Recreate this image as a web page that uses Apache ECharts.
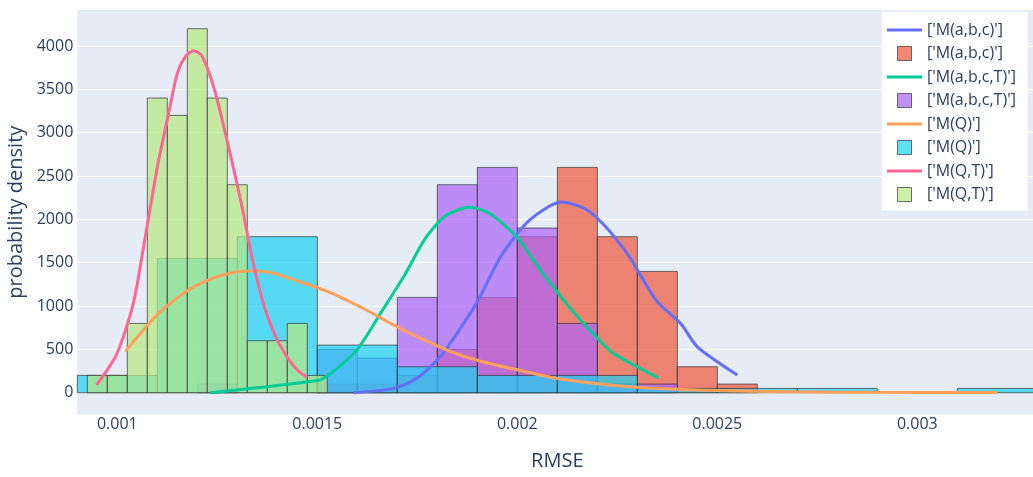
<!DOCTYPE html>
<html>
<head>
<meta charset="utf-8">
<script src="https://cdn.jsdelivr.net/npm/echarts@6/dist/echarts.min.js"></script>
<style>
html,body{margin:0;padding:0;background:#fff;}
#chart{width:1033px;height:477px;}
</style>
</head>
<body>
<div id="chart"></div>
<script>
// ---------- data ----------
const seriesLabels = ["['M(a,b,c)']", "['M(a,b,c,T)']", "['M(Q)']", "['M(Q,T)']"];
const lineColors = ['#636EFA', '#00CC96', '#FFA15A', '#FF6692'];
const histColors = ['#EF553B', '#AB63FA', '#19D3F3', '#B6E880'];

// histogram bins: start, width, densities
const histStartAbc = 0.0015, histWidthAbc = 0.0001;
const histAbc = [100, 100, 200, 500, 1100, 1800, 2600, 1800, 1400, 300, 100];
const histStartAbcT = 0.0012, histWidthAbcT = 0.0001;
const histAbcT = [100, 0, 0, 500, 400, 1100, 2400, 2600, 1900, 800, 100, 100];
const histStartQ = 0.0009, histWidthQ = 0.0002;
const histQ = [200, 1550, 1800, 550, 300, 200, 200, 50, 50, 50, 0, 50];
const histStartQT = 0.000925, histWidthQT = 0.00005;
const histQT = [200, 200, 800, 3400, 3200, 4200, 3400, 2400, 600, 600, 800, 200];

// density curves
const curveAbcX = [0.00159, 0.00169, 0.00175, 0.00181, 0.00185, 0.0019, 0.00196, 0.00203, 0.00211, 0.00217, 0.00222, 0.00228, 0.00231, 0.00235, 0.00241, 0.00245, 0.00255];
const curveAbcY = [0, 50, 170, 430, 690, 1050, 1580, 1990, 2200, 2120, 1920, 1570, 1340, 1050, 790, 530, 205];
const curveAbcTX = [0.001232, 0.0015, 0.00153, 0.0016, 0.00166, 0.00172, 0.00177, 0.00182, 0.00188, 0.00193, 0.002, 0.00206, 0.00213, 0.0022, 0.00224, 0.002353];
const curveAbcTY = [0, 140, 210, 500, 930, 1370, 1780, 2040, 2140, 2070, 1790, 1400, 990, 630, 455, 170];
const curveQX = [0.00102, 0.0011, 0.00118, 0.00125, 0.00132, 0.00138, 0.00145, 0.00153, 0.00162, 0.0017, 0.00175, 0.00183, 0.00191, 0.002, 0.0021, 0.00228, 0.0025, 0.0027, 0.0029, 0.0031, 0.0032];
const curveQY = [475, 900, 1190, 1340, 1405, 1390, 1290, 1160, 960, 760, 645, 480, 360, 265, 165, 70, 25, 10, 5, 3, 2];
const curveQTX = [0.000948, 0.000998, 0.00104, 0.00107, 0.0011, 0.00113, 0.00115, 0.00117, 0.00119, 0.00121, 0.00123, 0.00125, 0.00128, 0.00131, 0.00134, 0.00137, 0.0014, 0.00143, 0.00145, 0.001474];
const curveQTY = [90, 440, 1030, 1800, 2600, 3260, 3685, 3877, 3946, 3896, 3685, 3377, 2800, 2185, 1493, 954, 608, 377, 262, 180];

// axis ticks
const xTickLabels = [0.001, 0.0015, 0.002, 0.0025, 0.003];
const yTickLabels = [0, 500, 1000, 1500, 2000, 2500, 3000, 3500, 4000];

// ---------- build ----------
const FONT = '"Open Sans", sans-serif';
const TXT = '#2a3f5f';
const Y_MIN = -250, Y_MAX = 4416, Y_STEP = 250;

function bins(start, width, heights) {
  return heights.map((h, i) => [start + i * width, start + (i + 1) * width, h]);
}
function pairs(xs, ys) { return xs.map((x, i) => [x, ys[i]]); }

const hists = [
  bins(histStartAbc, histWidthAbc, histAbc),
  bins(histStartAbcT, histWidthAbcT, histAbcT),
  bins(histStartQ, histWidthQ, histQ),
  bins(histStartQT, histWidthQT, histQT)
];
const curves = [
  pairs(curveAbcX, curveAbcY),
  pairs(curveAbcTX, curveAbcTY),
  pairs(curveQX, curveQY),
  pairs(curveQTX, curveQTY)
];

function hexA(hex, a) {
  const n = parseInt(hex.slice(1), 16);
  return 'rgba(' + (n >> 16) + ',' + ((n >> 8) & 255) + ',' + (n & 255) + ',' + a + ')';
}

const series = [];
hists.forEach((data, k) => {
  const col = histColors[k];
  series.push({
    name: 'hist' + k,
    type: 'custom',
    z: 1,
    itemStyle: { color: col },
    data: data,
    encode: { x: [0, 1], y: 2 },
    renderItem: function (params, api) {
      const h = api.value(2);
      if (!h) return null;
      const p0 = api.coord([api.value(0), h]);
      const p1 = api.coord([api.value(1), 0]);
      return {
        type: 'rect',
        shape: { x: p0[0], y: p0[1], width: p1[0] - p0[0], height: p1[1] - p0[1] },
        style: { fill: col, stroke: '#333', lineWidth: 1, opacity: 0.7 }
      };
    }
  });
});
curves.forEach((data, k) => {
  series.push({
    name: 'line' + k,
    type: 'line',
    z: 5,
    symbol: 'none',
    smooth: 0.25,
    color: lineColors[k],
    lineStyle: { width: 3, color: lineColors[k] },
    data: data
  });
});

const legendData = [];
for (let k = 0; k < 4; k++) {
  legendData.push({
    name: 'line' + k,
    icon: 'path://M0,0H35V3H0Z',
    itemStyle: { color: lineColors[k], borderWidth: 0 }
  });
  legendData.push({
    name: 'hist' + k,
    icon: 'path://M0,0H10V10H0Z',
    itemStyle: { color: hexA(histColors[k], 0.7), borderColor: 'rgba(51,51,51,0.7)', borderWidth: 1 }
  });
}
const legendText = {};
for (let k = 0; k < 4; k++) {
  legendText['line' + k] = seriesLabels[k];
  legendText['hist' + k] = seriesLabels[k];
}

// y split-line colours: only the labelled values get a white grid line
const yTicks = [];
for (let v = Y_MIN; v < Y_MAX; v += Y_STEP) yTicks.push(v);
yTicks.push(Y_MAX);
const ySplitColors = yTicks.map(v => yTickLabels.indexOf(v) >= 0 ? '#ffffff' : 'rgba(0,0,0,0)');

const chart = echarts.init(document.getElementById('chart'), null, { renderer: 'canvas' });
chart.setOption({
  animation: false,
  backgroundColor: '#ffffff',
  textStyle: { fontFamily: FONT },
  grid: {
    left: 77.3, top: 10, width: 960, height: 404.4,
    show: true, backgroundColor: '#E5ECF6', borderWidth: 0,
    containLabel: false,
    outerBoundsMode: 'none'
  },
  legend: {
    orient: 'vertical',
    left: 882, top: 12,
    padding: [10, 12, 8, 5],
    itemGap: 7.5,
    itemWidth: 35, itemHeight: 14,
    backgroundColor: '#ffffff',
    data: legendData,
    formatter: name => legendText[name],
    textStyle: { color: TXT, fontSize: 16, fontFamily: FONT }
  },
  xAxis: {
    type: 'value',
    min: 0.0009, max: 0.0033, interval: 0.0001,
    name: 'RMSE', nameLocation: 'middle', nameGap: 37,
    nameTextStyle: { color: TXT, fontSize: 20, fontFamily: FONT },
    axisLine: { show: false }, axisTick: { show: false },
    splitLine: { show: false },
    axisLabel: {
      margin: 2, color: TXT, fontSize: 16, fontFamily: FONT,
      formatter: function (v) {
        for (const t of xTickLabels) if (Math.abs(t - v) < 1e-9) return String(t);
        return '';
      }
    }
  },
  yAxis: {
    type: 'value',
    min: Y_MIN, max: Y_MAX, interval: Y_STEP,
    name: 'probability density', nameLocation: 'middle', nameGap: 48,
    nameTextStyle: { color: TXT, fontSize: 20, fontFamily: FONT },
    axisLine: { show: false }, axisTick: { show: false },
    splitLine: { show: true, lineStyle: { color: ySplitColors, width: 1 } },
    axisLabel: {
      margin: 4, color: TXT, fontSize: 16, fontFamily: FONT,
      formatter: function (v) {
        for (const t of yTickLabels) if (Math.abs(t - v) < 1e-6) return String(t);
        return '';
      }
    }
  },
  series: series
});
</script>
</body>
</html>
